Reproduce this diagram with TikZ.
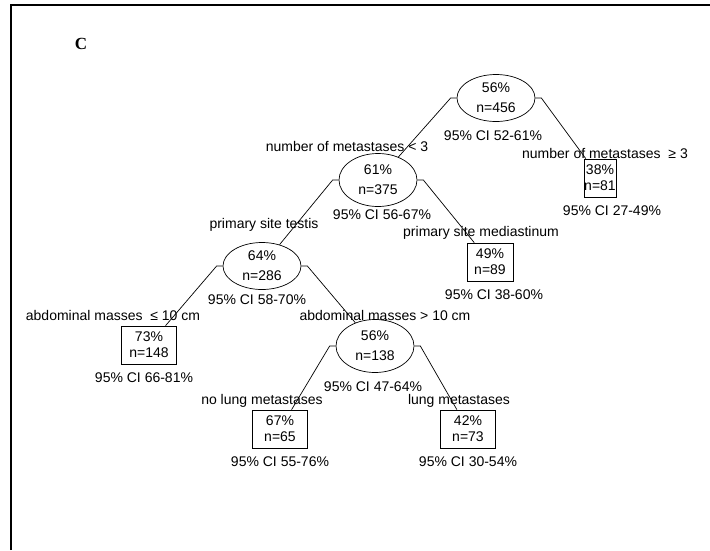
\documentclass[tikz,border=0pt]{standalone}
\usepackage{fontspec}
\setmainfont{Liberation Sans}
\newfontfamily\panelfont{Liberation Serif}
\usetikzlibrary{shapes.geometric}

\begin{document}
\begin{tikzpicture}[x=1pt,y=-1pt,line width=0.7pt,font=\fontsize{14}{16}\selectfont,
                    split node/.style={ellipse,draw,minimum width=78pt,minimum height=47pt,inner sep=0pt,align=center},
                    leaf node/.style={rectangle,draw,minimum height=38pt,inner sep=0pt,align=center},
                    go left/.style={to path={(\tikztostart.west) -- ++(-6,0) -- (\tikztotarget)}},
                    go right/.style={to path={(\tikztostart.east) -- ++(6,0) -- (\tikztotarget)}}]

  \useasboundingbox (0,0) rectangle (710,550);
  \draw[line width=2pt] (11,550) -- (11,5) -- (710,5);
  \node (panel) at (81,44) {\panelfont\fontsize{17}{17}\selectfont\bfseries C};

  \node[split node] (1) at (496,98) {56\%\\[4pt]n=456};
  \node[split node,minimum height=53pt] (2) at (378,180) {61\%\\[4pt]n=375};
  \node[leaf node,minimum width=32pt] (3) at (600,178) {38\%\\n=81};
  \node[split node] (4) at (262,266) {64\%\\[4pt]n=286};
  \node[leaf node,minimum width=46pt] (5) at (490,262) {49\%\\n=89};
  \node[leaf node,minimum width=55pt] (6) at (149,345) {73\%\\n=148};
  \node[split node,minimum height=53pt] (7) at (375,346) {56\%\\[4pt]n=138};
  \node[leaf node,minimum width=55pt] (8) at (280,429) {67\%\\n=65};
  \node[leaf node,minimum width=55pt] (9) at (468,429) {42\%\\n=73};

  \node (1ci) [below of=1,node distance=38pt,xshift=-3pt] {95\% CI 52-61\%};
  \node (2ci) [below of=2,node distance=35pt,xshift=4pt] {95\% CI 56-67\%};
  \node (3ci) [below of=3,node distance=33pt,xshift=12pt] {95\% CI 27-49\%};
  \node (4ci) [below of=4,node distance=34pt,xshift=-5pt] {95\% CI 58-70\%};
  \node (5ci) [below of=5,node distance=33pt,xshift=4pt] {95\% CI 38-60\%};
  \node (6ci) [below of=6,node distance=33pt,xshift=-5pt] {95\% CI 66-81\%};
  \node (7ci) [below of=7,node distance=41pt,xshift=-2pt] {95\% CI 47-64\%};
  \node (8ci) [below of=8,node distance=33pt] {95\% CI 55-76\%};
  \node (9ci) [below of=9,node distance=33pt] {95\% CI 30-54\%};

  \node (2s) at (347,146) {number of metastases < 3};
  \node (3s) at (605,153) {number of metastases~ ≥ 3};
  \node (4s) at (264,225) {primary site testis};
  \node (5s) at (481,233) {primary site mediastinum};
  \node (6s) at (113,315) {abdominal masses~ ≤ 10 cm};
  \node (7s) at (385,315) {abdominal masses > 10 cm};
  \node (8s) at (262,401) {no lung metastases};
  \node (9s) at (459,401) {lung metastases};

  \path
    (1) edge[go left] (2)
    (1) edge[go right] (3)
    (2) edge[go left] (4)
    (2) edge[go right] (5)
    (4) edge[go left] (6)
    (4) edge[go right] (7)
    (7) edge[go left] (8)
    (7) edge[go right] (9);
\end{tikzpicture}
\end{document}
